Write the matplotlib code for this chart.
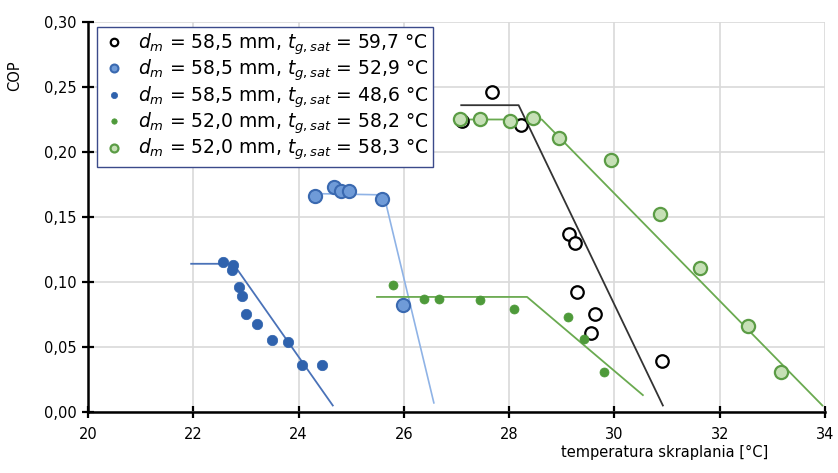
import matplotlib
matplotlib.use("Agg")
import matplotlib.pyplot as plt

# measured points (temperatura skraplania [°C], COP)
s1_x = [27.68, 28.23, 29.13, 29.26, 29.28, 29.63, 29.56, 30.91, 27.10]
s1_y = [0.246, 0.221, 0.137, 0.130, 0.092, 0.075, 0.061, 0.039, 0.224]
s2_x = [24.32, 24.68, 24.81, 24.95, 25.58, 25.98]
s2_y = [0.166, 0.173, 0.170, 0.170, 0.164, 0.082]
s3_x = [22.56, 22.76, 22.73, 22.87, 22.93, 23.01, 23.21, 23.49, 23.80, 24.07, 24.44]
s3_y = [0.115, 0.113, 0.109, 0.096, 0.089, 0.075, 0.068, 0.055, 0.054, 0.036, 0.036]
s4_x = [25.80, 26.39, 26.67, 27.45, 28.10, 29.12, 29.42, 29.80]
s4_y = [0.098, 0.087, 0.087, 0.086, 0.079, 0.073, 0.056, 0.031]
s5_x = [27.06, 27.45, 28.01, 28.45, 28.95, 29.94, 30.86, 31.62, 32.54, 33.17]
s5_y = [0.225, 0.225, 0.224, 0.226, 0.211, 0.194, 0.152, 0.111, 0.066, 0.031]

# fitted model lines (break points)
l1_x = [27.09, 28.18, 30.92]
l1_y = [0.236, 0.236, 0.005]
l2_x = [24.30, 25.62, 26.57]
l2_y = [0.168, 0.167, 0.007]
l3_x = [21.96, 22.76, 24.65]
l3_y = [0.114, 0.114, 0.005]
l4_x = [25.49, 28.34, 30.54]
l4_y = [0.0885, 0.0885, 0.013]
l5_x = [27.00, 28.62, 33.95]
l5_y = [0.225, 0.225, 0.005]

labels = [
    r"$d_m$ = 58,5 mm, $t_{g,sat}$ = 59,7 °C",
    r"$d_m$ = 58,5 mm, $t_{g,sat}$ = 52,9 °C",
    r"$d_m$ = 58,5 mm, $t_{g,sat}$ = 48,6 °C",
    r"$d_m$ = 52,0 mm, $t_{g,sat}$ = 58,2 °C",
    r"$d_m$ = 52,0 mm, $t_{g,sat}$ = 58,3 °C",
]

fig = plt.figure(figsize=(8.38, 4.73), dpi=100)
ax = fig.add_axes([0.105, 0.129, 0.8795, 0.8245])

ax.plot(l2_x, l2_y, color="#8fb3e6", lw=1.2, zorder=2)
ax.plot(l3_x, l3_y, color="#4a72b8", lw=1.3, zorder=2)
ax.plot(l4_x, l4_y, color="#6aaa50", lw=1.3, zorder=2)
ax.plot(l5_x, l5_y, color="#6aaa50", lw=1.3, zorder=2)
ax.plot(l1_x, l1_y, color="#333333", lw=1.3, zorder=2)

ax.plot(s1_x, s1_y, "o", ms=9, mfc="white", mec="black", mew=1.6, label=labels[0], zorder=3)
ax.plot(s2_x, s2_y, "o", ms=9.5, mfc="#6f9bd8", mec="#3a69b0", mew=1.5, label=labels[1], zorder=3)
ax.plot(s3_x, s3_y, "o", ms=7.5, mfc="#2f62ad", mec="#2f62ad", mew=0.5, label=labels[2], zorder=3)
ax.plot(s4_x, s4_y, "o", ms=6.5, mfc="#4e9a3a", mec="#4e9a3a", mew=0.5, label=labels[3], zorder=3)
ax.plot(s5_x, s5_y, "o", ms=9.5, mfc="#c6e0b6", mec="#5b9c45", mew=1.6, label=labels[4], zorder=4)

ax.set_xlim(20, 34)
ax.set_ylim(0, 0.30)
ax.set_xticks(range(20, 35, 2))
ax.set_yticks([0, 0.05, 0.10, 0.15, 0.20, 0.25, 0.30])
ax.set_yticklabels([f"{v:.2f}".replace(".", ",") for v in ax.get_yticks()])
ax.grid(True, color="#d9d9d9", lw=1.2)
ax.set_axisbelow(True)
for s in ["top", "right"]:
    ax.spines[s].set_visible(False)
for s in ["left", "bottom"]:
    ax.spines[s].set_linewidth(1.8)
ax.tick_params(direction="inout", length=9, width=1.6, labelsize=10.5, colors="black")
ax.tick_params(axis="x", pad=6)

fig.text(0.018, 0.84, "COP", rotation=90, fontsize=10.5, va="center", ha="center")
fig.text(0.917, 0.044, "temperatura skraplania [°C]", fontsize=10.5, ha="right", va="center")

leg = ax.legend(loc="upper left", bbox_to_anchor=(0.012, 0.987), fontsize=13.5,
                frameon=True, fancybox=False, edgecolor="#3b4a8a", framealpha=1,
                handletextpad=0.6, borderpad=0.22, labelspacing=0.05, handlelength=1.4,
                borderaxespad=0, markerscale=0.6)
leg.get_frame().set_linewidth(1.0)
leg.set_zorder(5)

fig.savefig("out.png", dpi=100)
